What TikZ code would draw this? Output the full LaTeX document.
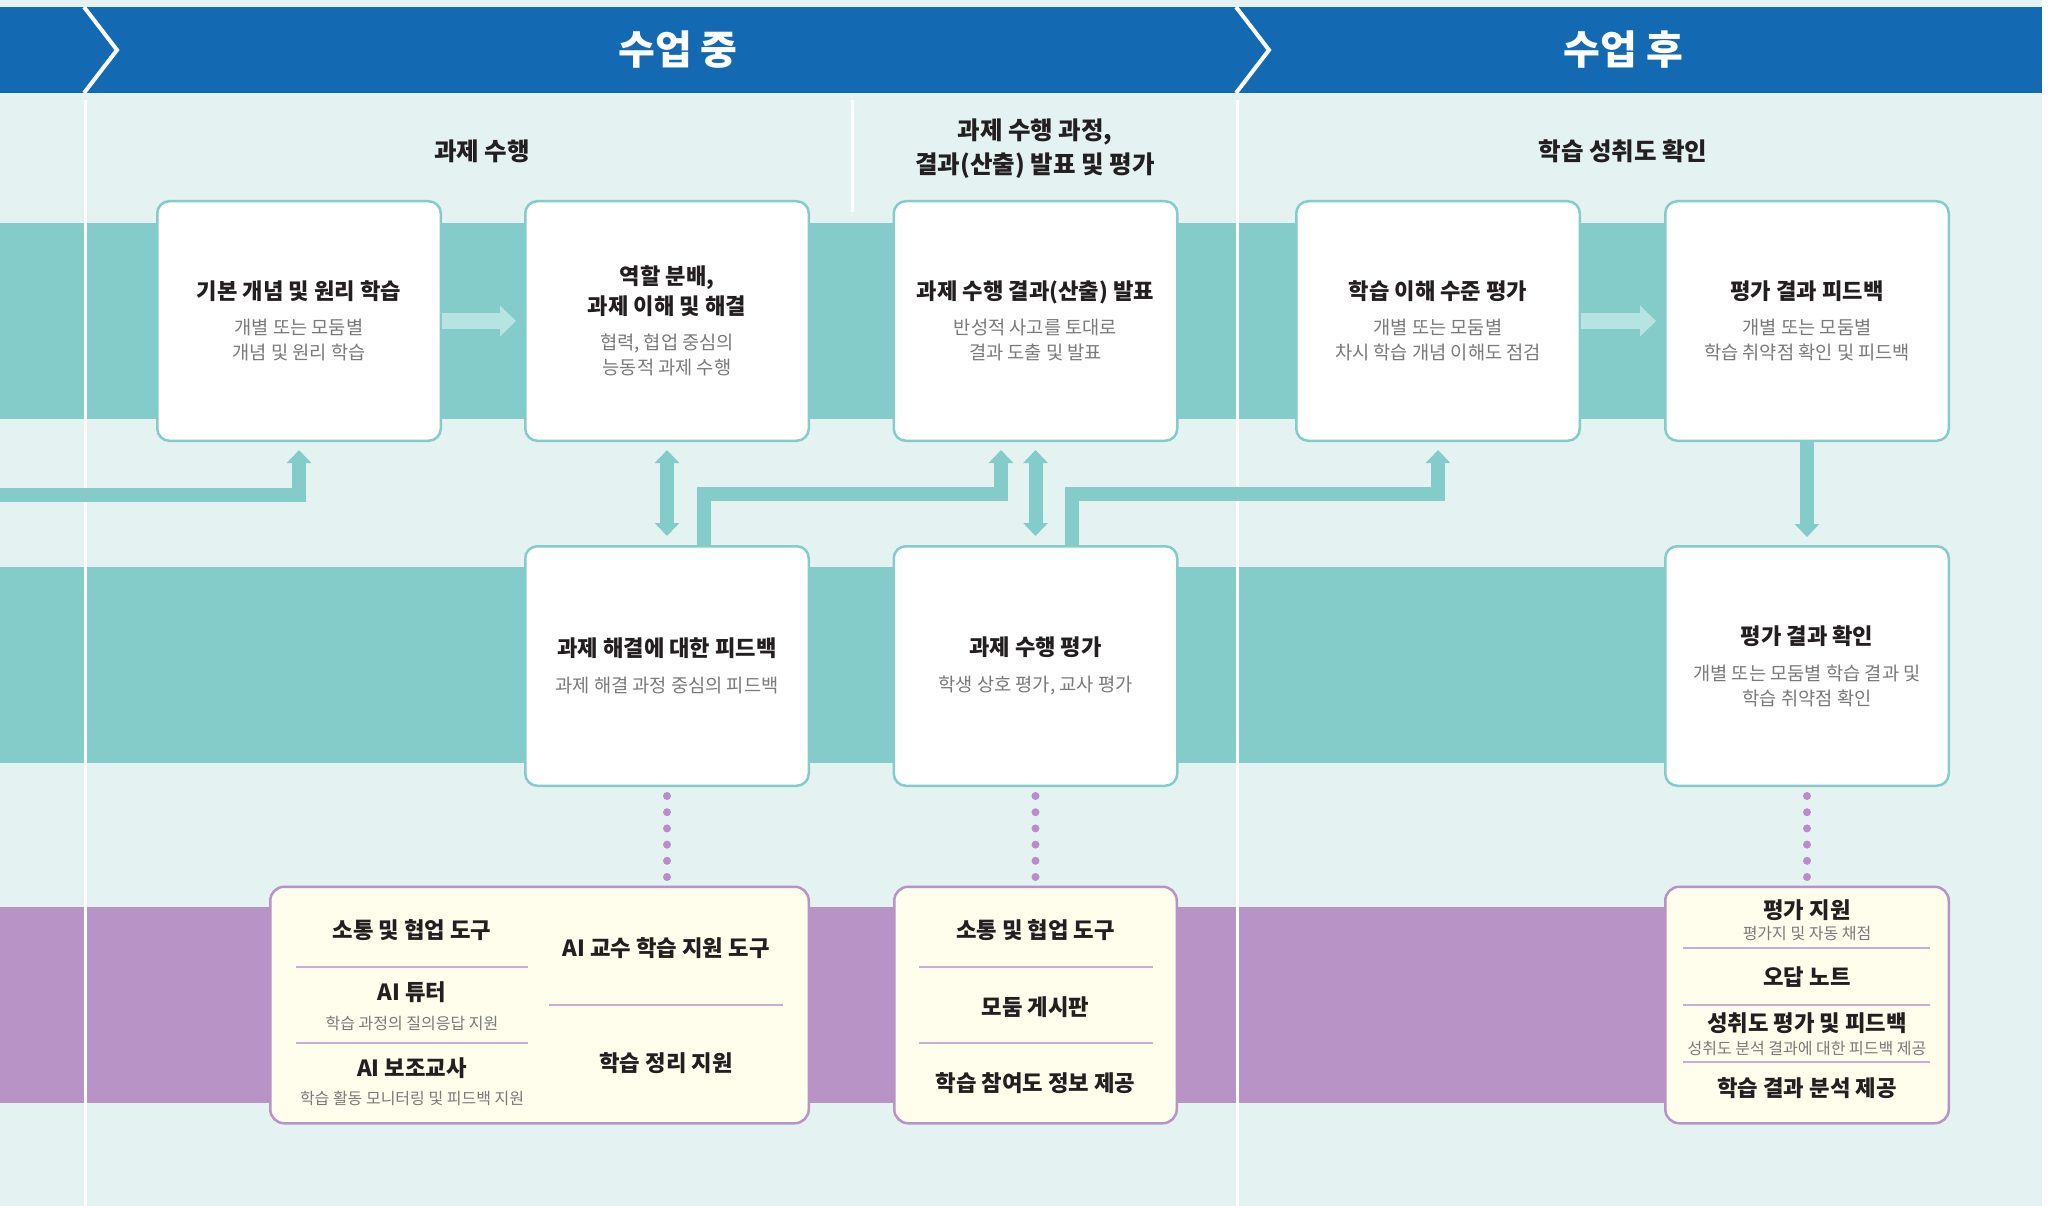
\documentclass[tikz,border=0pt]{standalone}
\usepackage{fontspec}
\setmainfont{Noto Sans CJK KR}
\usetikzlibrary{arrows.meta}
\definecolor{sheet}{HTML}{E4F2F2}
\definecolor{banner}{HTML}{1469B3}
\definecolor{tealband}{HTML}{84CCCA}
\definecolor{paleteal}{HTML}{B8E3E3}
\definecolor{lilac}{HTML}{B793C6}
\definecolor{cream}{HTML}{FFFDEC}
\definecolor{ink}{HTML}{231F20}
\definecolor{grey}{HTML}{7A7A7A}
\definecolor{dotc}{HTML}{BA8CCB}
\definecolor{rulec}{HTML}{C9ADD5}
\newcommand\hd[1]{{\bfseries\fontsize{22.2}{25}\selectfont\color{ink}#1}}

\begin{document}
\begin{tikzpicture}
[
    x=1pt, y=-1pt,
    card/.style={draw=tealband, line width=2.5pt, fill=white, rounded corners=12pt,
        minimum width=283.5pt, minimum height=239.5pt, align=center,
        text=grey, font=\fontsize{18.7}{25}\selectfont},
    tool/.style={draw=lilac, line width=2.5pt, fill=cream, rounded corners=14pt,
        minimum height=236.5pt},
    item/.style={inner sep=0pt, text=ink, font=\bfseries\fontsize{22.3}{25}\selectfont},
    note/.style={inner sep=0pt, text=grey, font=\fontsize{16}{20}\selectfont},
    stage/.style={inner sep=0pt, text=ink, align=center, font=\bfseries\fontsize{24.5}{34}\selectfont},
    phase/.style={inner sep=0pt, text=white, font=\bfseries\fontsize{40}{42}\selectfont},
    flow/.style={draw=tealband, line width=14pt, -{Triangle[width=24pt,length=13pt]}},
    flowboth/.style={draw=tealband, line width=14pt,
        {Triangle[width=24pt,length=13pt]}-{Triangle[width=24pt,length=13pt]}},
    push/.style={draw=paleteal, line width=16pt, -{Triangle[width=30pt,length=16pt]}},
    dots/.style={draw=dotc, line width=8pt, line cap=round, dash pattern=on 0pt off 16.2pt,
        shorten <=9pt, shorten >=6pt},
    sep/.style={draw=rulec, line width=1.5pt}
]
    \useasboundingbox (0,0) rectangle (2055,1206);
    \fill[white] (0,0) rectangle (2055,1206);
    \fill[sheet] (0,0) rectangle (2042,1206);

    % bands
    \fill[tealband] (0,223) rectangle (1807,419);
    \fill[tealband] (0,567) rectangle (1807,763);
    \fill[lilac] (0,907) rectangle (1807,1103);

    % dividers
    \draw[white, line width=3pt] (85,100) -- (85,1206);
    \draw[white, line width=3pt] (1237.5,100) -- (1237.5,1206);
    \draw[white, line width=3pt] (852,100) -- (852,212);

    % header
    \fill[banner] (0,7) rectangle (2042,93);
    \draw[white, line width=4pt] (84,7) -- (117,50) -- (84,93);
    \draw[white, line width=4pt] (1236,7) -- (1269,50) -- (1236,93);
    \node[phase] (during) at (678,50) {수업 중};
    \node[phase] (after) at (1623,50) {수업 후};

    \node[stage] (task) at (482,151) {과제 수행};
    \node[stage] (show) at (1035,149) {과제 수행 과정,\\결과(산출) 발표 및 평가};
    \node[stage] (reach) at (1623,151) {학습 성취도 확인};

    % cards
    \node[card] (learn) at (299,321)
        {\hd{기본 개념 및 원리 학습}\\[10pt]개별 또는 모둠별\\개념 및 원리 학습};
    \node[card] (divide) at (667,321)
        {\hd{역할 분배,}\\[5pt]\hd{과제 이해 및 해결}\\[10pt]협력, 협업 중심의\\능동적 과제 수행};
    \node[card] (present) at (1035.5,321)
        {\hd{과제 수행 결과(산출) 발표}\\[10pt]반성적 사고를 토대로\\결과 도출 및 발표};
    \node[card] (level) at (1438,321)
        {\hd{학습 이해 수준 평가}\\[10pt]개별 또는 모둠별\\차시 학습 개념 이해도 점검};
    \node[card] (fback) at (1807,321)
        {\hd{평가 결과 피드백}\\[10pt]개별 또는 모둠별\\학습 취약점 확인 및 피드백};
    \node[card] (solve) at (667,666)
        {\hd{과제 해결에 대한 피드백}\\[11pt]과제 해결 과정 중심의 피드백};
    \node[card] (evalt) at (1035.5,666)
        {\hd{과제 수행 평가}\\[11pt]학생 상호 평가, 교사 평가};
    \node[card] (confirm) at (1807,666)
        {\hd{평가 결과 확인}\\[11pt]개별 또는 모둠별 학습 결과 및\\학습 취약점 확인};

    % arrows
    \coordinate (inflow) at (0,495);
    \draw[push] (learn.east) -- ([xshift=-8pt]divide.west);
    \draw[push] (level.east) -- ([xshift=-8pt]fback.west);
    \draw[flow] (inflow) -| ([yshift=-8pt]learn.south);
    \draw[flowboth] ([yshift=-8pt]divide.south) -- ([yshift=9pt]solve.north);
    \draw[flow] ([xshift=37pt]solve.north) -- ++(0,-51) -| ([xshift=-34.5pt,yshift=-8pt]present.south);
    \draw[flowboth] ([yshift=-8pt]present.south) -- ([yshift=9pt]evalt.north);
    \draw[flow] ([xshift=36.5pt]evalt.north) -- ++(0,-51) -| ([yshift=-8pt]level.south);
    \draw[flow] (fback.south) -- ([yshift=8pt]confirm.north);

    % tools
    \node[tool, minimum width=538.5pt] (toolsa) at (539.5,1005) {};
    \node[tool, minimum width=282.5pt] (toolsb) at (1035.5,1005) {};
    \node[tool, minimum width=283.5pt] (toolsc) at (1807,1005) {};

    \draw[dots] (solve.south) -- (solve.south |- toolsa.north);
    \draw[dots] (evalt.south) -- (toolsb.north);
    \draw[dots] (confirm.south) -- (toolsc.north);

    \node[item] (ta1) at (412,930) {소통 및 협업 도구};
    \draw[sep] (296,967) -- (528,967);
    \node[item] (ta2) at (412,992) {AI 튜터};
    \node[note] (ta3) at (412,1023) {학습 과정의 질의응답 지원};
    \draw[sep] (296,1043) -- (528,1043);
    \node[item] (ta4) at (412,1068) {AI 보조교사};
    \node[note] (ta5) at (412,1098) {학습 활동 모니터링 및 피드백 지원};
    \node[item] (ta6) at (666,948) {AI 교수 학습 지원 도구};
    \draw[sep] (549,1005) -- (783,1005);
    \node[item] (ta7) at (666,1063) {학습 정리 지원};

    \node[item] (tb1) at (1035.5,930) {소통 및 협업 도구};
    \draw[sep] (919,967) -- (1153,967);
    \node[item] (tb2) at (1035.5,1007) {모둠 게시판};
    \draw[sep] (919,1043) -- (1153,1043);
    \node[item] (tb3) at (1035.5,1083) {학습 참여도 정보 제공};

    \node[item] (tc1) at (1807,910) {평가 지원};
    \node[note] (tc2) at (1807,933) {평가지 및 자동 채점};
    \draw[sep] (1683,948) -- (1930,948);
    \node[item] (tc3) at (1807,977) {오답 노트};
    \draw[sep] (1683,1005) -- (1930,1005);
    \node[item] (tc4) at (1807,1023) {성취도 평가 및 피드백};
    \node[note] (tc5) at (1807,1048) {성취도 분석 결과에 대한 피드백 제공};
    \draw[sep] (1683,1062) -- (1930,1062);
    \node[item] (tc6) at (1807,1088) {학습 결과 분석 제공};
\end{tikzpicture}
\end{document}
